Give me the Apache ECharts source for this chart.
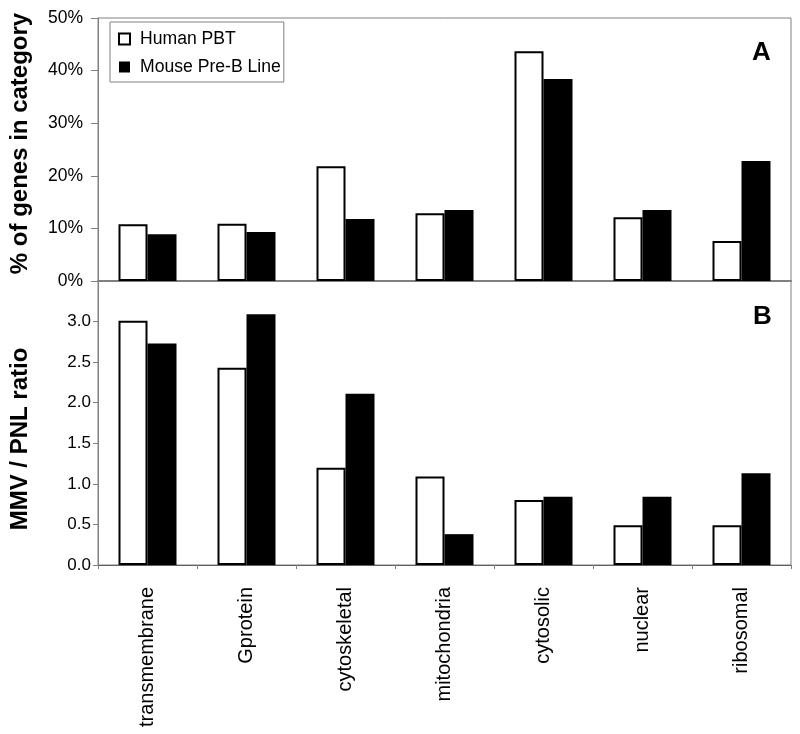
<!DOCTYPE html>
<html>
<head>
<meta charset="utf-8">
<script src="https://cdn.jsdelivr.net/npm/echarts@6/dist/echarts.min.js"></script>
<style>html,body{margin:0;padding:0;background:#fff}#c{width:800px;height:734px}</style>
</head>
<body>
<div id="c"></div>
<script>
var categories = ['transmembrane','Gprotein','cytoskeletal','mitochondria','cytosolic','nuclear','ribosomal'];
var seriesNames = ['Human PBT','Mouse Pre-B Line'];
// Panel A: % of genes in category
var pctHuman = [10.8, 10.9, 21.8, 12.9, 43.7, 12.1, 7.6];
var pctMouse = [8.9, 9.3, 11.8, 13.5, 38.4, 13.5, 22.8];
// Panel B: MMV / PNL ratio
var ratioHuman = [3.01, 2.43, 1.20, 1.09, 0.80, 0.49, 0.49];
var ratioMouse = [2.73, 3.09, 2.11, 0.38, 0.84, 0.84, 1.13];
var yTitles = ['% of genes in category', 'MMV / PNL ratio'];
var panelLabels = ['A', 'B'];

var FONT = "'Liberation Sans', Arial, sans-serif";
var GRAY = '#808080';
var chart = echarts.init(document.getElementById('c'));
var whiteStyle = {color: '#ffffff', borderColor: '#000000', borderWidth: 2};
var blackStyle = {color: '#000000'};

chart.setOption({
  animation: false,
  textStyle: {fontFamily: FONT},
  grid: [
    {left: 97, right: 9, top: 18, height: 263, show: true, borderColor: GRAY, borderWidth: 1},
    {left: 97, right: 9, top: 281, height: 284, show: true, borderColor: GRAY, borderWidth: 1}
  ],
  legend: {
    data: seriesNames,
    orient: 'vertical',
    left: 110, top: 22,
    padding: [8, 3, 6, 8],
    itemWidth: 11, itemHeight: 11, itemGap: 10,
    borderColor: GRAY, borderWidth: 1,
    icon: 'rect',
    textStyle: {fontSize: 17.6, fontFamily: FONT, color: '#000', lineHeight: 18, padding: [0, 0, 0, 5]}
  },
  xAxis: [
    {type: 'category', gridIndex: 0, data: categories,
     axisLine: {lineStyle: {color: GRAY, width: 2}},
     axisTick: {show: false}, axisLabel: {show: false}},
    {type: 'category', gridIndex: 1, data: categories,
     axisLine: {lineStyle: {color: '#606060', width: 1}},
     axisTick: {show: true, length: 4, lineStyle: {color: GRAY}},
     axisLabel: {rotate: 90, margin: 22, fontSize: 20, color: '#000', fontFamily: FONT}}
  ],
  yAxis: [
    {type: 'value', gridIndex: 0, min: 0, max: 50, interval: 10,
     name: yTitles[0], nameLocation: 'middle', nameGap: 66, nameRotate: 90,
     nameTextStyle: {fontSize: 24, fontWeight: 'bold', color: '#000', fontFamily: FONT, padding: [0, 0, 0, 12]},
     axisLine: {show: true, lineStyle: {color: GRAY}},
     axisTick: {show: true, length: 7, lineStyle: {color: GRAY}},
     splitLine: {show: false},
     axisLabel: {formatter: '{value}%', margin: 15, fontSize: 17.5, color: '#000', fontFamily: FONT}},
    {type: 'value', gridIndex: 1, min: 0, max: 3.5, interval: 0.5,
     name: yTitles[1], nameLocation: 'middle', nameGap: 66, nameRotate: 90,
     nameTextStyle: {fontSize: 24, fontWeight: 'bold', color: '#000', fontFamily: FONT, padding: [0, 32, 0, 0]},
     axisLine: {show: true, lineStyle: {color: GRAY}},
     axisTick: {show: true, length: 5, lineStyle: {color: GRAY}},
     splitLine: {show: false},
     axisLabel: {showMaxLabel: false, margin: 7, fontSize: 17, color: '#000', fontFamily: FONT,
       formatter: function (v) { return v.toFixed(1); }}}
  ],
  series: [
    {name: seriesNames[0], type: 'bar', xAxisIndex: 0, yAxisIndex: 0, data: pctHuman, barWidth: 29, barGap: '0%', itemStyle: whiteStyle},
    {name: seriesNames[1], type: 'bar', xAxisIndex: 0, yAxisIndex: 0, data: pctMouse, barWidth: 29, barGap: '0%', itemStyle: blackStyle},
    {name: seriesNames[0], type: 'bar', xAxisIndex: 1, yAxisIndex: 1, data: ratioHuman, barWidth: 29, barGap: '0%', itemStyle: whiteStyle},
    {name: seriesNames[1], type: 'bar', xAxisIndex: 1, yAxisIndex: 1, data: ratioMouse, barWidth: 29, barGap: '0%', itemStyle: blackStyle}
  ],
  graphic: [
    {type: 'text', left: 752, top: 40, style: {text: panelLabels[0], font: "bold 26px " + FONT, fill: '#000'}},
    {type: 'text', left: 753, top: 304, style: {text: panelLabels[1], font: "bold 26px " + FONT, fill: '#000'}}
  ]
});
</script>
</body>
</html>
